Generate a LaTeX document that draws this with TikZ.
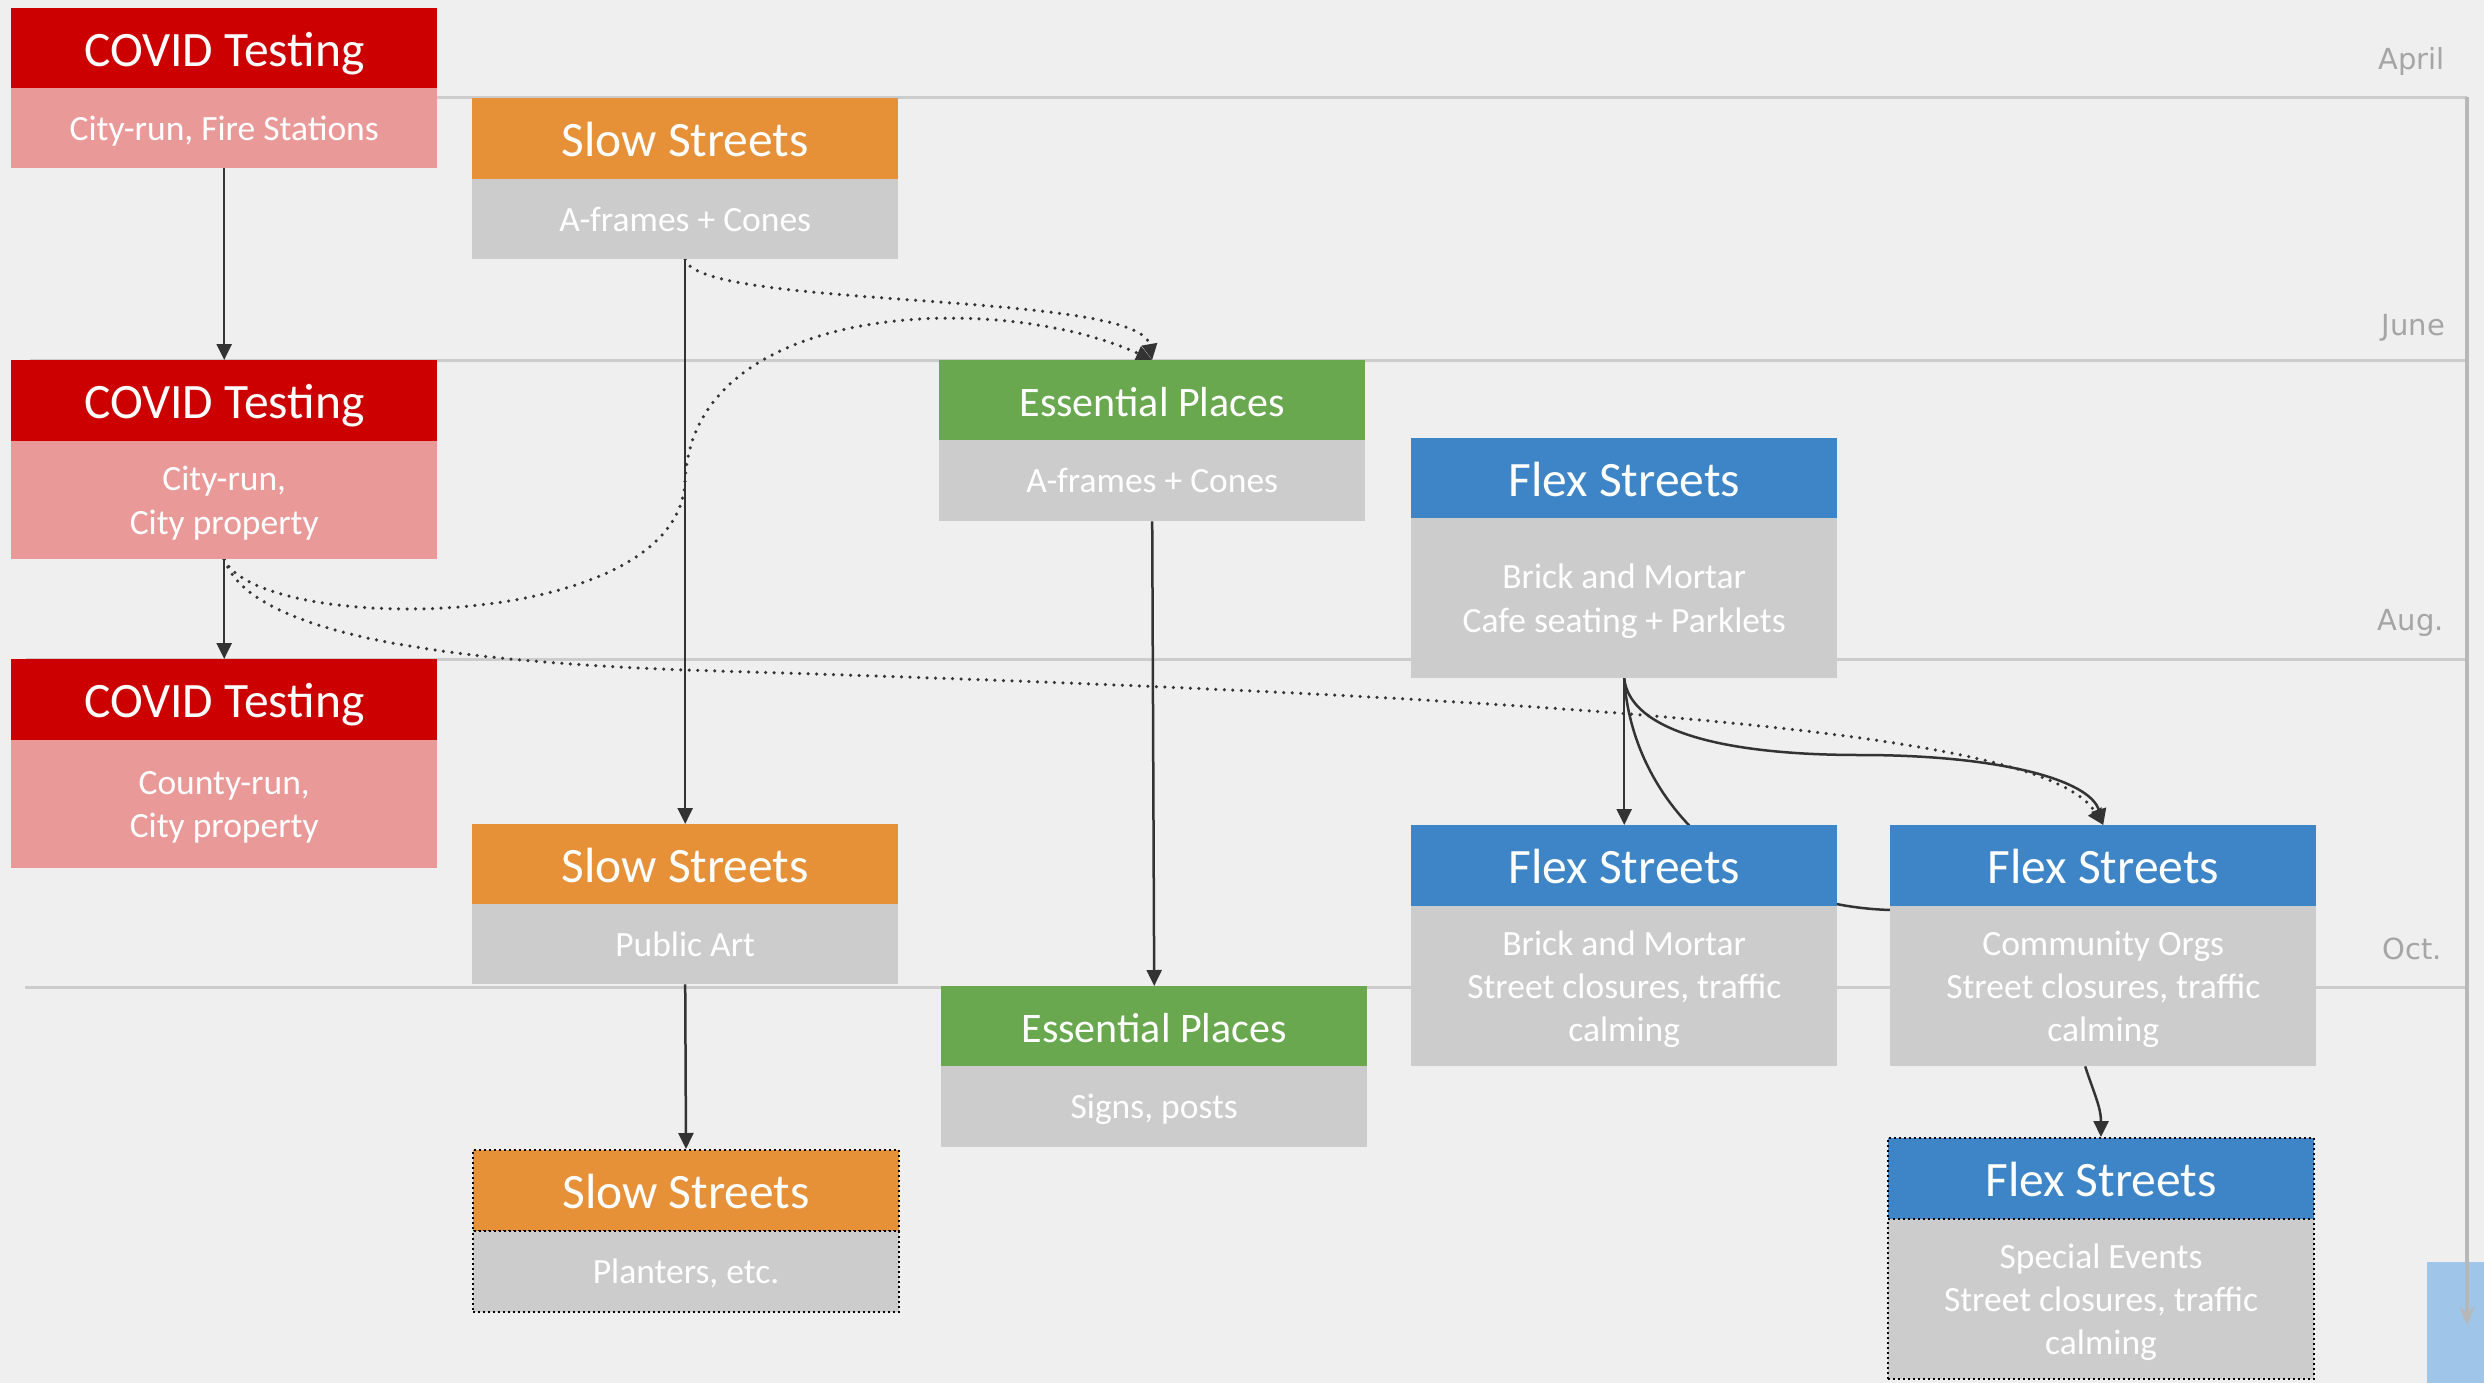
\documentclass[tikz,border=0pt]{standalone}
\usepackage{fontspec}
\setmainfont{Carlito}
\newfontfamily\monthfont{DejaVu Sans}
\usetikzlibrary{arrows.meta}
\definecolor{bgc}{HTML}{EFEFEF}
\definecolor{covred}{HTML}{CC0000}
\definecolor{covpink}{HTML}{EA9999}
\definecolor{sloworange}{HTML}{E69138}
\definecolor{essgreen}{HTML}{6AA84F}
\definecolor{flexblue}{HTML}{3D85C6}
\definecolor{boxgrey}{HTML}{CCCCCC}
\definecolor{lineg}{HTML}{CCCCCC}
\definecolor{vlineg}{HTML}{B7B7B7}
\definecolor{monthg}{HTML}{A5A5A5}
\definecolor{lblue}{HTML}{9FC5E8}
\definecolor{arrowc}{HTML}{333333}
\pgfdeclarelayer{back}
\pgfdeclarelayer{mid}
\pgfsetlayers{back,mid,main}
\begin{document}
\begin{tikzpicture}[x=1pt,y=-1pt,
  hdr/.style={rectangle, inner sep=0pt, minimum width=426pt, anchor=north west,
    text=white, font=\fontsize{49.5}{58}\selectfont, text height=36.5pt, text depth=0pt},
  esshdr/.style={hdr, font=\fontsize{42}{50}\selectfont, text height=31.6pt},
  bdy/.style={rectangle, inner sep=0pt, minimum width=426pt, anchor=north west,
    text=white, align=center, fill=boxgrey, font=\fontsize{35.5}{43.3}\selectfont, text depth=0pt},
  dotbox/.style={draw=black, line width=2pt, dash pattern=on 2pt off 3pt},
  monthline/.style={draw=lineg, line width=3pt},
  month/.style={inner sep=0pt, anchor=base east, text=monthg, font=\monthfont\fontsize{29}{34}\selectfont},
  conn/.style={draw=arrowc, line width=2.5pt, -{Triangle[length=16pt,width=15pt]}},
  plainc/.style={draw=arrowc, line width=2.5pt},
  dotc/.style={draw=arrowc, line width=3.5pt, line cap=round, dash pattern=on 0pt off 8.5pt,
    -{Triangle[length=16pt,width=15pt]}}
]
\useasboundingbox (0,0) rectangle (2484,1383);

% ---- boxes ----
\node[hdr, fill=covred, minimum height=80pt] (cov1h) at (11,8) {COVID Testing};
\node[bdy, fill=covpink, minimum height=80pt] (cov1) at (11,88) {City-run, Fire Stations};
\node[hdr, fill=covred, minimum height=81pt] (cov2h) at (11,360) {COVID Testing};
\node[bdy, fill=covpink, minimum height=118pt] (cov2) at (11,441) {City-run,\\City property};
\node[hdr, fill=covred, minimum height=81pt] (cov3h) at (11,659) {COVID Testing};
\node[bdy, fill=covpink, minimum height=128pt] (cov3) at (11,740) {County-run,\\City property};

\node[hdr, fill=sloworange, minimum height=81pt] (slow1h) at (472,98) {Slow Streets};
\node[bdy, minimum height=80pt] (slow1) at (472,179) {A-frames + Cones};
\node[hdr, fill=sloworange, minimum height=80pt] (slow2h) at (472,824) {Slow Streets};
\node[bdy, minimum height=80pt] (slow2) at (472,904) {Public Art};
\node[hdr, fill=sloworange, dotbox, minimum height=81pt] (slow3h) at (472,1149) {Slow Streets};
\node[bdy, dotbox, minimum height=81pt] (slow3) at (472,1230) {Planters, etc.};

\node[esshdr, fill=essgreen, minimum height=80pt] (ess1h) at (939,360) {Essential Places};
\node[bdy, minimum height=81pt] (ess1) at (939,440) {A-frames + Cones};
\node[esshdr, fill=essgreen, minimum height=80pt] (ess2h) at (941,986) {Essential Places};
\node[bdy, minimum height=81pt] (ess2) at (941,1066) {Signs, posts};

\node[hdr, fill=flexblue, minimum height=80pt] (flex1h) at (1411,438) {Flex Streets};
\node[bdy, minimum height=160pt] (flex1) at (1411,518) {Brick and Mortar\\Cafe seating + Parklets};
\node[hdr, fill=flexblue, minimum height=81pt] (flex2h) at (1411,825) {Flex Streets};
\node[bdy, minimum height=160pt] (flex2) at (1411,906) {Brick and Mortar\\Street closures, traffic\\calming};
\node[hdr, fill=flexblue, minimum height=81pt] (flex3h) at (1890,825) {Flex Streets};
\node[bdy, minimum height=160pt] (flex3) at (1890,906) {Community Orgs\\Street closures, traffic\\calming};
\node[hdr, fill=flexblue, dotbox, minimum height=81pt] (flex4h) at (1887,1137) {Flex Streets};
\node[bdy, dotbox, minimum height=160pt] (flex4) at (1887,1218) {Special Events\\Street closures, traffic\\calming};

% ---- month labels ----
\node[month] (apr) at (2445,70) {April};
\node[month] (jun) at (2445,335) {June};
\node[month] (aug) at (2444,630) {Aug.};
\node[month] (oct) at (2442,959) {Oct.};

% ---- background, timeline ----
\begin{pgfonlayer}{back}
  \fill[bgc] (0,0) rectangle (2484,1383);
  \draw[monthline] (26,98) -- (2467,98);
  \draw[monthline] (30,360) -- (2467,360);
  \draw[monthline] (26,659) -- (2467,659);
  \draw[monthline] (25,987) -- (2467,987);
  \fill[lblue] (2427,1262) rectangle (2484,1383);
  \coordinate (tlstart) at (2467,97);
  \coordinate (tlend) at (2467,1325);
  \draw[draw=vlineg, line width=4pt, -{Stealth[length=18pt,width=15pt]}] (tlstart) -- (tlend);
\end{pgfonlayer}

% ---- connectors ----
\begin{pgfonlayer}{mid}
  \draw[conn] (cov1.south) -- (cov2h.north);
  \draw[conn] (cov2.south) -- (cov3h.north);
  \draw[conn] (slow1.south) -- (slow2h.north);
  \draw[conn] (slow2.south) -- (slow3h.north);
  \draw[conn] (ess1.south) -- (ess2h.north);
  \draw[conn] (flex1.south) -- (flex2h.north);
  \coordinate (fm) at (1860,755);
  \draw[conn] (flex1.south) .. controls (1630,730) and (1720,755) .. (fm)
     .. controls (2000,755) and (2090,780) .. (flex3h.north);
  \coordinate (f3l) at ([yshift=-4pt]flex3.north west);
  \draw[plainc] (flex1.south) .. controls (1632,800) and (1735,905) .. (f3l);
  \coordinate (f3s) at ([xshift=-18pt]flex3.south);
  \draw[conn] (f3s) .. controls +(8,25) and +(0,-30) .. (flex4h.north);
  % dotted
  \draw[dotc] (slow1.south) .. controls (700,310) and (1140,290) .. (ess1h.north);
  \coordinate (d1) at (685,483);
  \draw[dotc] (cov2.south) .. controls (260,635) and (675,635) .. (d1)
     .. controls (690,300) and (1000,290) .. (ess1h.north);
  \coordinate (d2) at (685,670);
  \draw[dotc] (cov2.south) .. controls (250,630) and (420,660) .. (d2)
     .. controls (1700,700) and (2050,740) .. (flex3h.north);
\end{pgfonlayer}
\end{tikzpicture}
\end{document}
